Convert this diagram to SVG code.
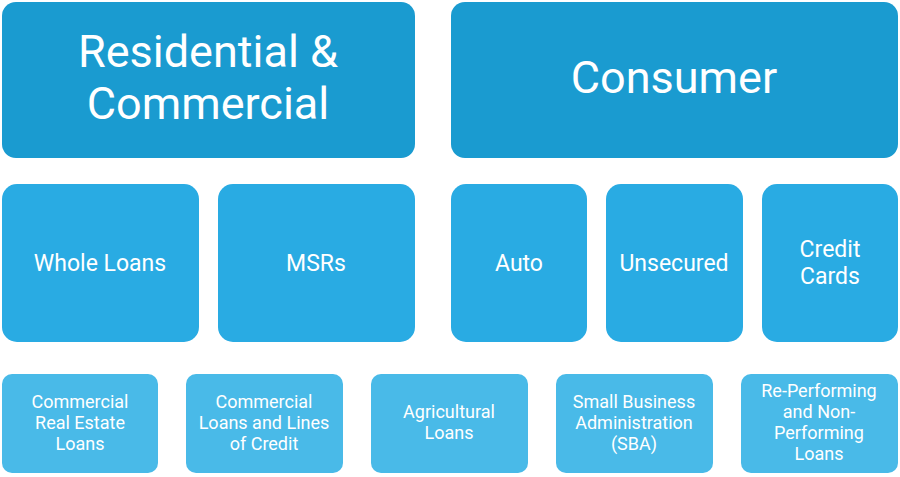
<svg xmlns="http://www.w3.org/2000/svg" width="900" height="477" viewBox="0 0 900 477">
<style>
.t{fill:#1a9bd0}.m{fill:#29abe3}.b{fill:#49bae8}
text{font-family:Roboto,"Liberation Sans",sans-serif;fill:#fff;text-anchor:middle}
.tt{font-size:45px}.mt{font-size:23px}.bt{font-size:18px}
</style>
<rect width="900" height="477" fill="#fff"/>
<g id="res"><rect class="t" x="2" y="2" width="413" height="156" rx="14"/><text class="tt" x="208" y="67">Residential &amp;</text><text class="tt" x="208" y="119">Commercial</text></g>
<g id="con"><rect class="t" x="451" y="2" width="447" height="156" rx="14"/><text class="tt" x="674" y="93">Consumer</text></g>
<g id="whole"><rect class="m" x="2" y="184" width="197" height="158" rx="15"/><text class="mt" x="100" y="271">Whole Loans</text></g>
<g id="msr"><rect class="m" x="218" y="184" width="197" height="158" rx="15"/><text class="mt" x="316" y="271">MSRs</text></g>
<g id="auto"><rect class="m" x="451" y="184" width="136" height="158" rx="15"/><text class="mt" x="519" y="271">Auto</text></g>
<g id="unsec"><rect class="m" x="606" y="184" width="137" height="158" rx="15"/><text class="mt" x="674" y="271">Unsecured</text></g>
<g id="cc"><rect class="m" x="762" y="184" width="136" height="158" rx="15"/><text class="mt" x="830" y="257">Credit</text><text class="mt" x="830" y="284">Cards</text></g>
<g id="cre"><rect class="b" x="2" y="374" width="156" height="99" rx="10"/><text class="bt" x="80" y="408">Commercial</text><text class="bt" x="80" y="429">Real Estate</text><text class="bt" x="80" y="450">Loans</text></g>
<g id="clc"><rect class="b" x="186" y="374" width="157" height="99" rx="10"/><text class="bt" x="264" y="408">Commercial</text><text class="bt" x="264" y="429">Loans and Lines</text><text class="bt" x="264" y="450">of Credit</text></g>
<g id="agr"><rect class="b" x="371" y="374" width="157" height="99" rx="10"/><text class="bt" x="449" y="418">Agricultural</text><text class="bt" x="449" y="439">Loans</text></g>
<g id="sba"><rect class="b" x="556" y="374" width="157" height="99" rx="10"/><text class="bt" x="634" y="408">Small Business</text><text class="bt" x="634" y="429">Administration</text><text class="bt" x="634" y="450">(SBA)</text></g>
<g id="rpl"><rect class="b" x="741" y="374" width="157" height="99" rx="10"/><text class="bt" x="819" y="397">Re-Performing</text><text class="bt" x="819" y="418">and Non-</text><text class="bt" x="819" y="439">Performing</text><text class="bt" x="819" y="460">Loans</text></g>
<g id="connectors"/>
</svg>
